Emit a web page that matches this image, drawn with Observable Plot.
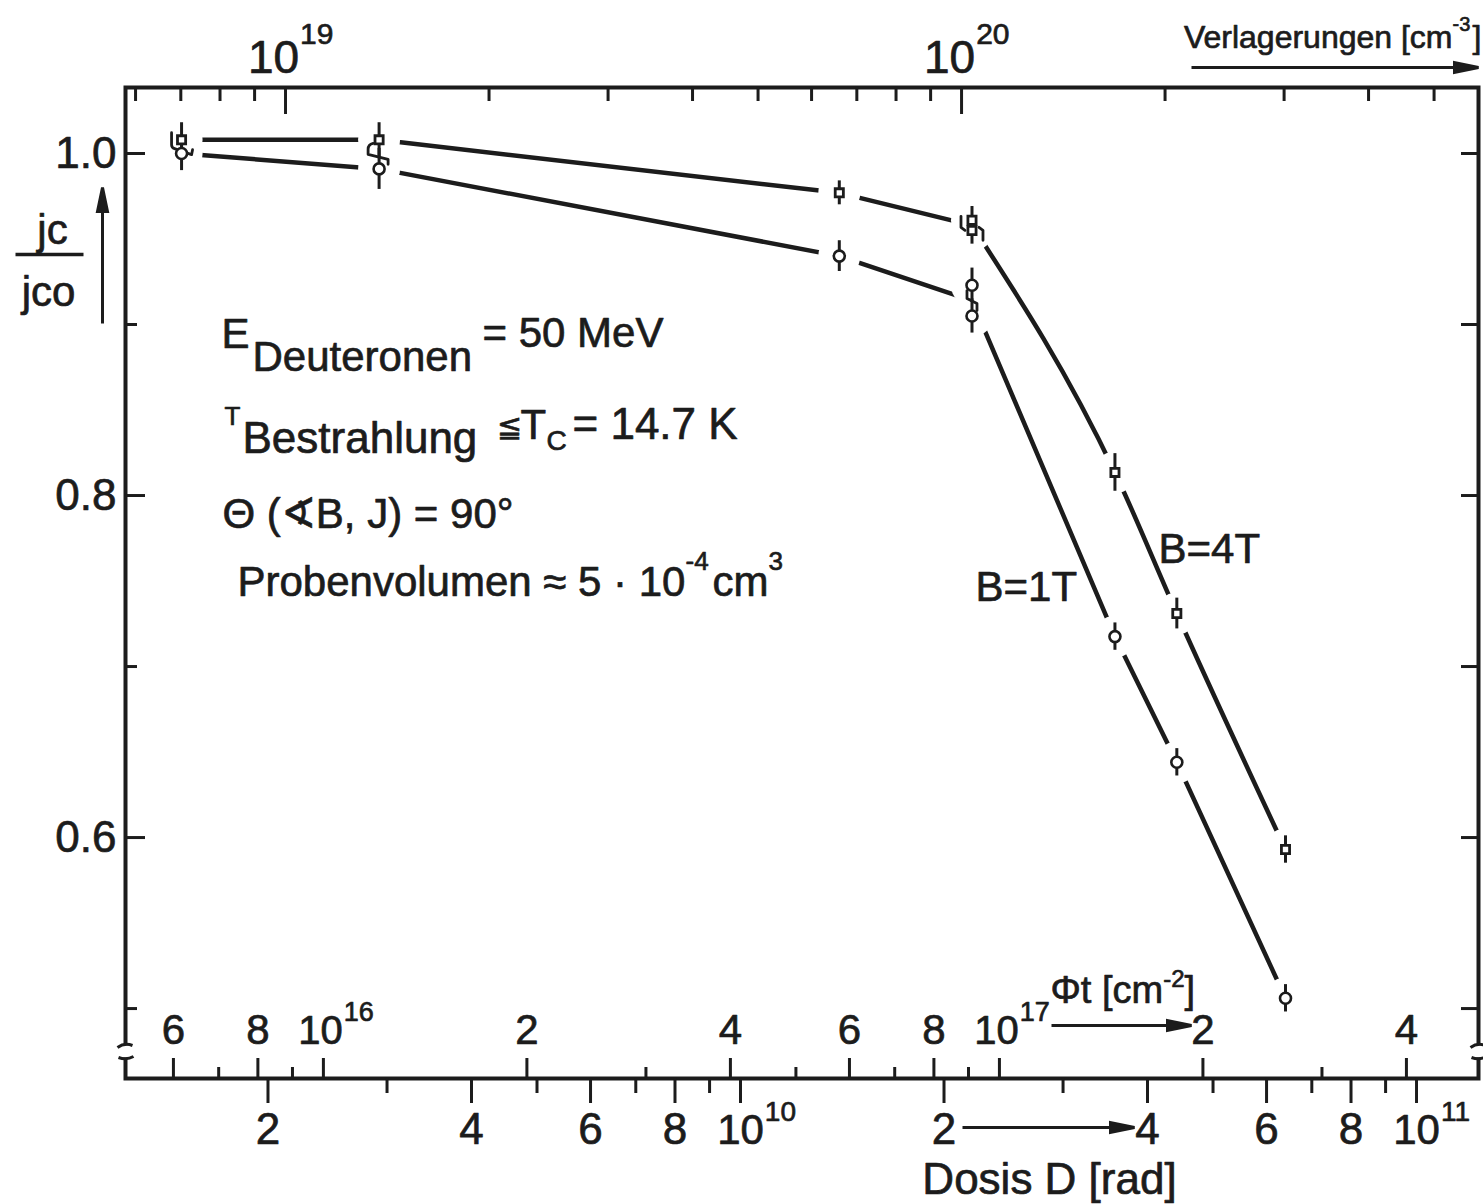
<!DOCTYPE html>
<html>
<head>
<meta charset="utf-8">
<script src="https://cdn.jsdelivr.net/npm/d3@7"></script>
<script src="https://cdn.jsdelivr.net/npm/@observablehq/plot@0.6"></script>
<style>
  html, body { margin: 0; padding: 0; background: #fff; }
  #chart svg { display: block; }
</style>
</head>
<body>
<div id="chart"></div>
<script>
// ---- measured critical-current ratio jc/jc0 versus deuteron dose ----
// B = 4 T (square markers); two readings at 2.2e10 rad
const dose4T  = [1.49e9, 2.92e9, 1.40e10, 2.20e10, 2.20e10, 3.58e10, 4.42e10, 6.40e10];
const ratio4T = [1.008, 1.008, 0.977, 0.961, 0.955, 0.8135, 0.731, 0.593];
const err4T   = [0.010, 0.010, 0.007, 0.008, 0.008, 0.011, 0.009, 0.008];
// B = 1 T (circle markers); two readings at 2.2e10 rad
const dose1T  = [1.49e9, 2.92e9, 1.40e10, 2.20e10, 2.20e10, 3.58e10, 4.42e10, 6.40e10];
const ratio1T = [1.000, 0.991, 0.940, 0.923, 0.905, 0.7175, 0.644, 0.506];
const err1T   = [0.010, 0.012, 0.009, 0.010, 0.010, 0.008, 0.008, 0.008];

// ---- axis ticks ----
const yTicks        = [0.5, 0.6, 0.7, 0.8, 0.9, 1.0];
const yLabelled     = [0.6, 0.8, 1.0];
const doseTicks     = [2e9, 3e9, 4e9, 5e9, 6e9, 7e9, 8e9, 9e9, 1e10, 2e10, 3e10, 4e10, 5e10, 6e10, 7e10, 8e10, 9e10, 1e11];
const doseLabelled  = [2e9, 4e9, 6e9, 8e9, 1e10, 2e10, 4e10, 6e10, 8e10, 1e11];
const fluxTicks     = [6e15, 7e15, 8e15, 9e15, 1e16, 2e16, 3e16, 4e16, 5e16, 6e16, 7e16, 8e16, 9e16, 1e17, 2e17, 3e17, 4e17];
const fluxLabelled  = [6e15, 8e15, 1e16, 2e16, 4e16, 6e16, 8e16, 1e17, 2e17, 4e17];
const displTicks    = [6e18, 7e18, 8e18, 9e18, 1e19, 2e19, 3e19, 4e19, 5e19, 6e19, 7e19, 8e19, 9e19, 1e20, 2e20, 3e20, 4e20, 5e20];
const displLabelled = [1e19, 1e20];

// conversion of the secondary scales to dose
const FLUX_PER_RAD  = 4.14e6;   // Φt [cm^-2] per rad
const DISPL_PER_RAD = 4.71e9;   // displacements [cm^-3] per rad

// ---- layout ----
const INK = "#1c1c1c";
const FONT = "'Liberation Sans', Arial, sans-serif";
const W = 1483, H = 1204;
const M = {top: 87, right: 5, bottom: 126, left: 125};
const innerW = W - M.left - M.right;
const innerH = H - M.top - M.bottom;
const xDomain = [1.231e9, 1.235e11];
const yDomain = [0.4591, 1.0386];
const BREAK_AT = 0.4749;
const KNEE = 2.2e10;   // the 4 T curve bends sharply here
const TXT = {fill: INK, stroke: INK, strokeWidth: 0.7};

const exp10 = v => Math.floor(Math.log10(v) + 1e-9);
const mant = v => Math.round(v / 10 ** exp10(v));
const isDecade = v => mant(v) === 1;
const fluxX = v => v / FLUX_PER_RAD;
const displX = v => v / DISPL_PER_RAD;

const measureCtx = document.createElement("canvas").getContext("2d");
const textWidth = (t, size) => { measureCtx.font = `${size}px ${FONT}`; return measureCtx.measureText(t).width; };

const pts4T = dose4T.map((d, i) => ({dose: d, ratio: ratio4T[i], err: err4T[i]}));
const pts1T = dose1T.map((d, i) => ({dose: d, ratio: ratio1T[i], err: err1T[i]}));
const meanCurve = pts => Array.from(
  d3.rollup(pts, v => d3.mean(v, p => p.ratio), p => p.dose),
  ([dose, ratio]) => ({dose, ratio})
).sort((a, b) => a.dose - b.dose);
const curve4T = meanCurve(pts4T);
const curve1T = meanCurve(pts1T);

// ---- custom glyphs ----
const gapSym   = {draw(c) { c.rect(-7, -6, 14, 12); }};
const breakSym = {draw(c) {
  c.moveTo(-8, -4); c.quadraticCurveTo(-1, -9, 7, -6);
  c.moveTo(-7, 6);  c.quadraticCurveTo(1, 9, 8, 5);
}};
const hookSym = {draw(c) {
  c.moveTo(-10, -14); c.lineTo(-10, -2); c.quadraticCurveTo(-10, 1, -7, 2);
  c.lineTo(10, 8); c.lineTo(11, 3);
}};
const sWideSym = {draw(c) {
  c.moveTo(-6, -11); c.quadraticCurveTo(-11, -10, -11, -5); c.lineTo(-11, 0);
  c.lineTo(9, 5); c.lineTo(9, 10);
}};
const sNarrowSym = {draw(c) {
  c.moveTo(-5, -10); c.lineTo(-5, -2); c.lineTo(5, 3); c.lineTo(5, 10);
}};
const bracketSym = {draw(c) {
  c.moveTo(-11, -9); c.lineTo(-11, 2); c.lineTo(-7, 5);
  c.moveTo(7, 2); c.lineTo(11, 5); c.lineTo(11, 15);
}};
const hbarSym = {draw(c) { c.moveTo(-34, 0); c.lineTo(34, 0); }};
const arrowSym = (len, dir) => ({draw(c) {
  const hl = 24, hw = 5;
  if (dir === "right") {
    c.moveTo(-len, 0); c.lineTo(-hl + 2, 0);
    c.moveTo(0, 0); c.lineTo(-hl, -hw); c.lineTo(-hl, hw); c.closePath();
  } else {
    c.moveTo(0, len); c.lineTo(0, hl - 2);
    c.moveTo(0, 0); c.lineTo(-hw, hl); c.lineTo(hw, hl); c.closePath();
  }
}});

// overlapping readings joined by a small link glyph
const links = [
  {dose: dose4T[0], ratio: (ratio4T[0] + ratio1T[0]) / 2, sym: hookSym},
  {dose: dose4T[1], ratio: (ratio4T[1] + ratio1T[1]) / 2, sym: sWideSym},
  {dose: dose4T[3], ratio: (ratio4T[3] + ratio4T[4]) / 2, sym: bracketSym},
  {dose: dose1T[3], ratio: (ratio1T[3] + ratio1T[4]) / 2, sym: sNarrowSym}
];

// ---- text helpers (positions in px of the page) ----
function place(t, x, base, size, anchor = "start") {
  return Plot.text([t], {
    text: d => d, frameAnchor: "top-left", dx: x - M.left, dy: base - M.top,
    textAnchor: anchor, lineAnchor: "bottom", fontSize: size, ...TXT
  });
}
function runs(x, base, pieces) {
  const out = [];
  let cx = x;
  for (const p of pieces) {
    cx += p.gap || 0;
    out.push(place(p.t, cx, base + (p.shift || 0), p.size));
    cx += textWidth(p.t, p.size);
  }
  return out;
}
// "10" with its exponent, centred on a decade tick
function decadeLabels(values, xOf, anchor, base, sup, size, supSize, shift = 0) {
  const half = textWidth("10", size) / 2;
  return [
    Plot.text(values, {x: xOf, frameAnchor: anchor, lineAnchor: "bottom", dy: base, dx: shift, text: () => "10", fontSize: size, ...TXT}),
    Plot.text(values, {x: xOf, frameAnchor: anchor, lineAnchor: "bottom", dy: sup, dx: shift + half + 1, textAnchor: "start", text: v => String(exp10(v)), fontSize: supSize, ...TXT})
  ];
}

const marks = [];

// frame
marks.push(Plot.frame({stroke: INK, strokeWidth: 4}));

// top axis: displacements
marks.push(Plot.tickX(displTicks.filter(isDecade), {x: displX, insetBottom: innerH - 27, stroke: INK, strokeWidth: 3}));
marks.push(Plot.tickX(displTicks.filter(v => !isDecade(v)), {x: displX, insetBottom: innerH - 14, stroke: INK, strokeWidth: 3}));
marks.push(...decadeLabels(displLabelled, displX, "top", -15, -44, 46, 30, -12));

// bottom axis, inner scale: fluence Φt
marks.push(Plot.tickX(fluxTicks.filter(v => fluxLabelled.includes(v)), {x: fluxX, insetTop: innerH - 20, stroke: INK, strokeWidth: 3}));
marks.push(Plot.tickX(fluxTicks.filter(v => !fluxLabelled.includes(v)), {x: fluxX, insetTop: innerH - 11, stroke: INK, strokeWidth: 3}));
marks.push(Plot.text(fluxLabelled.filter(v => !isDecade(v)), {x: fluxX, frameAnchor: "bottom", lineAnchor: "bottom", dy: -35, text: v => String(mant(v)), fontSize: 42, ...TXT}));
marks.push(...decadeLabels(fluxLabelled.filter(isDecade), fluxX, "bottom", -35, -58, 40, 27, -3));

// bottom axis, outer scale: dose
marks.push(Plot.tickX(doseTicks.filter(v => doseLabelled.includes(v)), {x: d => d, insetTop: innerH - 25, dy: 25, stroke: INK, strokeWidth: 3}));
marks.push(Plot.tickX(doseTicks.filter(v => !doseLabelled.includes(v)), {x: d => d, insetTop: innerH - 15, dy: 15, stroke: INK, strokeWidth: 3}));
marks.push(Plot.text(doseLabelled.filter(v => !isDecade(v)), {x: d => d, frameAnchor: "bottom", lineAnchor: "bottom", dy: 65, text: v => String(mant(v)), fontSize: 44, ...TXT}));
marks.push(...decadeLabels(doseLabelled.filter(isDecade), d => d, "bottom", 65, 42, 42, 28, 0));

// y axis ticks (left and right, pointing inward)
marks.push(Plot.tickY(yLabelled, {y: d => d, insetRight: innerW - 20, stroke: INK, strokeWidth: 3}));
marks.push(Plot.tickY(yTicks.filter(v => !yLabelled.includes(v)), {y: d => d, insetRight: innerW - 12, stroke: INK, strokeWidth: 3}));
marks.push(Plot.tickY(yTicks, {y: d => d, insetLeft: innerW - 17, stroke: INK, strokeWidth: 3}));
marks.push(Plot.text(yLabelled, {y: d => d, frameAnchor: "left", textAnchor: "end", dx: -9, text: d => d.toFixed(1), fontSize: 44, ...TXT}));

// break marks on both vertical edges
marks.push(Plot.dot(xDomain, {x: d => d, y: () => BREAK_AT, symbol: gapSym, fill: "white", stroke: "none"}));
marks.push(Plot.dot(xDomain, {x: d => d, y: () => BREAK_AT, symbol: breakSym, fill: "none", stroke: INK, strokeWidth: 3}));

// curves, interrupted around every marker
const lineStyle = {x: "dose", y: "ratio", stroke: INK, strokeWidth: 4.5, strokeLinecap: "round"};
marks.push(Plot.line(curve4T.filter(p => p.dose <= KNEE), {...lineStyle, curve: "linear"}));
marks.push(Plot.line(curve4T.filter(p => p.dose >= KNEE), {...lineStyle, curve: "monotone-x"}));
marks.push(Plot.line(curve1T, {...lineStyle, curve: "linear"}));
marks.push(Plot.dot([...pts4T, ...pts1T], {x: "dose", y: "ratio", r: 21, fill: "white", stroke: "none"}));

// error bars
marks.push(Plot.ruleX([...pts4T, ...pts1T], {x: "dose", y1: p => p.ratio - p.err, y2: p => p.ratio + p.err, stroke: INK, strokeWidth: 3}));
// link glyphs between overlapping readings
for (const l of links) {
  marks.push(Plot.dot([l], {x: "dose", y: "ratio", symbol: l.sym, fill: "none", stroke: INK, strokeWidth: 2.8, strokeLinecap: "round", strokeLinejoin: "round"}));
}
// markers
marks.push(Plot.dot(pts4T, {x: "dose", y: "ratio", symbol: "square", r: 4.6, fill: "white", stroke: INK, strokeWidth: 2.8}));
marks.push(Plot.dot(pts1T, {x: "dose", y: "ratio", symbol: "circle", r: 5.5, fill: "white", stroke: INK, strokeWidth: 2.6}));

// series labels
marks.push(place("B=1T", 975, 600, 42));
marks.push(place("B=4T", 1158, 562, 42));

// y-axis title: jc / jc0 with arrow
marks.push(place("jc", 52, 243, 42, "middle"));
marks.push(place("jco", 48, 305, 42, "middle"));
marks.push(Plot.dot([0], {frameAnchor: "top-left", dx: 49 - M.left, dy: 254 - M.top, symbol: hbarSym, fill: "none", stroke: INK, strokeWidth: 3.5}));
marks.push(Plot.dot([0], {frameAnchor: "top-left", dx: 102 - M.left, dy: 187 - M.top, symbol: arrowSym(136, "up"), fill: INK, stroke: INK, strokeWidth: 3}));

// top axis title
marks.push(place("Verlagerungen [cm", 1452, 47, 32, "end"));
marks.push(place("-3", 1452, 30, 20));
marks.push(place("]", 1481, 47, 32, "end"));
marks.push(Plot.dot([0], {frameAnchor: "top-left", dx: 1478 - M.left, dy: 67 - M.top, symbol: arrowSym(287, "right"), fill: INK, stroke: INK, strokeWidth: 3}));

// fluence title and arrow
marks.push(...runs(1050, 1002, [
  {t: "Φt [cm", size: 38},
  {t: "-2", size: 24, shift: -16},
  {t: "]", size: 38}
]));
marks.push(Plot.dot([0], {frameAnchor: "top-left", dx: 1191 - M.left, dy: 1025 - M.top, symbol: arrowSym(140, "right"), fill: INK, stroke: INK, strokeWidth: 3}));

// dose title and arrow
marks.push(place("Dosis D [rad]", 1049, 1193, 44, "middle"));
marks.push(Plot.dot([0], {frameAnchor: "top-left", dx: 1134 - M.left, dy: 1127 - M.top, symbol: arrowSym(172, "right"), fill: INK, stroke: INK, strokeWidth: 3}));

// irradiation conditions
marks.push(place("E", 221, 347, 42));
marks.push(place("Deuteronen", 252, 370, 42));
marks.push(place("= 50 MeV", 482, 346, 42));

marks.push(place("T", 224, 424, 26));
marks.push(place("Bestrahlung", 242, 452, 44));
marks.push(place("≦", 496, 436, 30));
marks.push(place("T", 520, 438, 42));
marks.push(place("C", 546, 449, 28));
marks.push(place("= 14.7 K", 572, 438, 44));

marks.push(place("Θ (∢B, J) = 90°", 222, 527, 42));
marks.push(...runs(237, 595, [
  {t: "Probenvolumen ≈ 5 · 10", size: 42},
  {t: "-4", size: 26, shift: -26},
  {t: "cm", size: 42, gap: 4},
  {t: "3", size: 26, shift: -26}
]));

const chart = Plot.plot({
  width: W, height: H,
  marginTop: M.top, marginRight: M.right, marginBottom: M.bottom, marginLeft: M.left,
  x: {type: "log", domain: xDomain, axis: null},
  y: {domain: yDomain, axis: null},
  style: {fontFamily: FONT, color: INK, background: "white", overflow: "visible"},
  marks
});
document.getElementById("chart").append(chart);
</script>
</body>
</html>
